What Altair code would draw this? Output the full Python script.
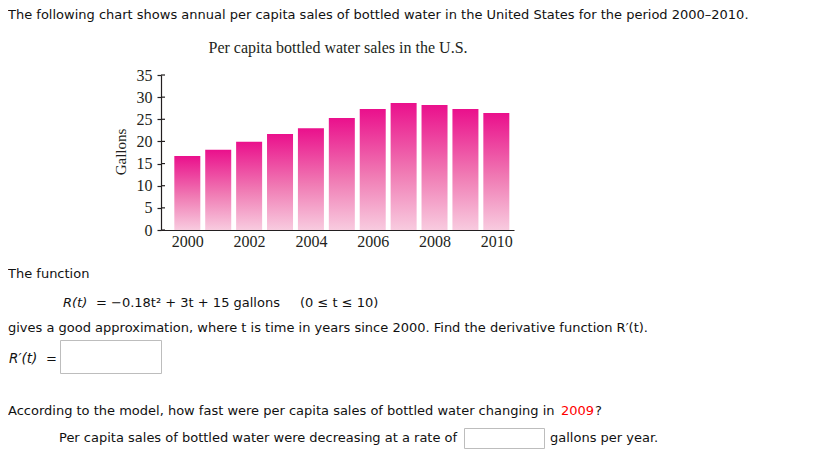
import altair as alt
import pandas as pd

# ---- data ----
years = [2000, 2001, 2002, 2003, 2004, 2005, 2006, 2007, 2008, 2009, 2010]
gallons = [16.7, 18.1, 19.9, 21.7, 23.0, 25.3, 27.3, 28.7, 28.2, 27.3, 26.4]
y_ticks = [0, 5, 10, 15, 20, 25, 30, 35]
x_ticks = [2000, 2002, 2004, 2006, 2008, 2010]

df = pd.DataFrame({"year": years, "gallons": gallons})
tick_df = pd.DataFrame({"tick": y_ticks})

# ---- layout helpers (page pixel -> plot coordinates) ----
W, H = 353, 155
PX0, PY0 = 161, 75          # page position of the plot's top-left corner


def px(x):
    return x - PX0


def py(y):
    return y - PY0


serif = "Liberation Serif"
sans = "DejaVu Sans"
ink = "#231F20"
FS = 13

grad = alt.LinearGradient(
    gradient="linear",
    stops=[alt.GradientStop(color="#EA108C", offset=0),
           alt.GradientStop(color="#F07BB4", offset=0.55),
           alt.GradientStop(color="#F8CBDF", offset=1)],
    x1=0, x2=0, y1=0, y2=1,
)

xscale = alt.Scale(domain=[1999.31, 2010.41], nice=False, zero=False)
yscale = alt.Scale(domain=[0, 35], nice=False)

bars = alt.Chart(df).mark_bar(color=grad, size=26).encode(
    x=alt.X("year:Q", scale=xscale,
            axis=alt.Axis(values=x_ticks, format="d", ticks=False, tickSize=0,
                          domainColor=ink, domainWidth=1.2, labelFont=serif,
                          labelFontSize=16, labelColor=ink, labelPadding=3,
                          grid=False, title=None)),
    y=alt.Y("gallons:Q", scale=yscale,
            axis=alt.Axis(values=y_ticks, tickSize=4, tickColor=ink, tickWidth=1.2,
                          domainColor=ink, domainWidth=1.2, labelFont=serif,
                          labelFontSize=16, labelColor=ink, labelPadding=5,
                          grid=False, title=None)),
)

# inner half of the crossing y ticks
inner_ticks = alt.Chart(tick_df).mark_rule(color=ink, strokeWidth=1.2).encode(
    y=alt.Y("tick:Q", scale=yscale, axis=None),
    x=alt.value(0), x2=alt.value(4),
)

one = alt.Data(values=[{}])


def txt(s, x, y, font=sans, size=FS, color="#111111", align="left", **kw):
    return alt.Chart(one).mark_text(
        text=s, align=align, baseline="middle", font=font, fontSize=size,
        color=color, **kw
    ).encode(x=alt.value(px(x)), y=alt.value(py(y)))


def box(x1, x2, y1, y2):
    return alt.Chart(one).mark_rect(fill="white", stroke="#bdbdbd", strokeWidth=1).encode(
        x=alt.value(px(x1)), x2=alt.value(px(x2)),
        y=alt.value(py(y1)), y2=alt.value(py(y2)))


layers = [
    bars, inner_ticks,
    txt("Per capita bottled water sales in the U.S.", 338, 48, font=serif, size=16,
        color=ink, align="center"),
    txt("Gallons", 121, 152, font=serif, size=15, color=ink, align="center", angle=270),
    txt("The following chart shows annual per capita sales of bottled water in the United States for the period 2000\u20132010.", 8, 15),
    txt("The function", 8, 274),
    txt("R(t)", 63, 303, fontStyle="italic"),
    txt("= \u22120.18t\u00b2 + 3t + 15 gallons", 96, 303),
    txt("(0 \u2264 t \u2264 10)", 300, 303),
    txt("gives a good approximation, where t is time in years since 2000. Find the derivative function R\u2032(t).", 8, 327.5),
    txt("R\u2032(t)", 9, 359, fontStyle="italic", size=13.5),
    txt("=", 46, 359),
    box(60.5, 161.5, 340.5, 373.5),
    txt("According to the model, how fast were per capita sales of bottled water changing in", 8, 411),
    txt("2009", 561, 411, color="#ff0000"),
    txt("?", 595, 411),
    txt("Per capita sales of bottled water were decreasing at a rate of", 59, 438),
    box(464.5, 544.5, 428.5, 448.5),
    txt("gallons per year.", 550, 438),
]

chart = alt.layer(*layers).resolve_axis(x="independent", y="independent").properties(
    width=W, height=H,
    padding={"left": PX0 - 8, "top": PY0 - 8, "right": 821 - (PX0 - 8) - W,
             "bottom": 454 - (PY0 - 8) - H},
    autosize=alt.AutoSizeParams(type="none"),
).configure_view(stroke=None).configure_axis(
    labelFont=serif, labelFontSize=16, labelColor=ink
)

chart.save("out.html", embed_options={"renderer": "svg", "actions": False})
